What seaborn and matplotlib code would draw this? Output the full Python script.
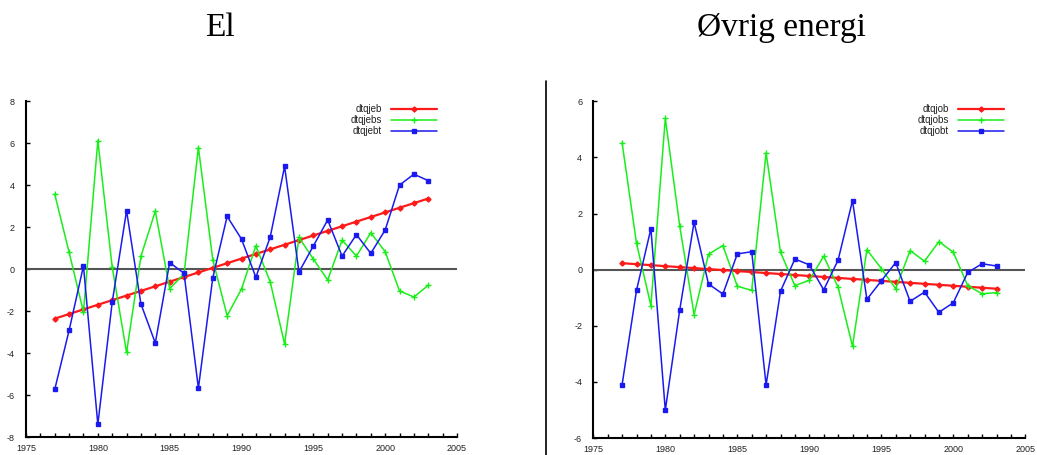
import matplotlib
matplotlib.use("Agg")
import matplotlib.pyplot as plt
from matplotlib.lines import Line2D
from matplotlib.ticker import MultipleLocator
import seaborn as sns
import pandas as pd

years = list(range(1977, 2004))

# El panel
dtqjeb = [-2.35, -2.13, -1.91, -1.69, -1.47, -1.25, -1.03, -0.81, -0.59, -0.37,
          -0.15, 0.07, 0.29, 0.51, 0.73, 0.95, 1.17, 1.39, 1.61, 1.83,
          2.05, 2.27, 2.49, 2.71, 2.93, 3.15, 3.37]
dtqjebs = [3.58, 0.81, -2.03, 6.13, 0.11, -3.96, 0.62, 2.77, -0.92, -0.22,
           5.80, 0.46, -2.21, -0.94, 1.12, -0.60, -3.56, 1.52, 0.49, -0.51,
           1.39, 0.63, 1.74, 0.84, -1.03, -1.32, -0.76]
dtqjebt = [-5.72, -2.91, 0.16, -7.39, -1.57, 2.79, -1.65, -3.51, 0.32, -0.19,
           -5.66, -0.41, 2.52, 1.44, -0.38, 1.54, 4.90, -0.13, 1.11, 2.35,
           0.63, 1.65, 0.76, 1.87, 4.01, 4.53, 4.22]

# Øvrig energi panel
dtqjob = [0.23, 0.195, 0.16, 0.125, 0.09, 0.055, 0.02, -0.015, -0.05, -0.085,
          -0.12, -0.155, -0.19, -0.225, -0.26, -0.295, -0.33, -0.365, -0.40, -0.435,
          -0.47, -0.505, -0.54, -0.575, -0.61, -0.645, -0.68]
dtqjobs = [4.52, 0.94, -1.28, 5.40, 1.56, -1.60, 0.55, 0.86, -0.59, -0.74,
           4.16, 0.62, -0.57, -0.38, 0.48, -0.63, -2.73, 0.71, 0.04, -0.68,
           0.68, 0.30, 1.00, 0.62, -0.57, -0.86, -0.82]
dtqjobt = [-4.10, -0.74, 1.46, -5.01, -1.44, 1.69, -0.51, -0.87, 0.56, 0.64,
           -4.11, -0.77, 0.38, 0.17, -0.72, 0.34, 2.46, -1.06, -0.40, 0.25,
           -1.13, -0.80, -1.52, -1.18, -0.10, 0.21, 0.13]

titles = ["El", "Øvrig energi"]
names_left = ["dtqjeb", "dtqjebs", "dtqjebt"]
names_right = ["dtqjob", "dtqjobs", "dtqjobt"]

sns.set_style("ticks")
plt.rcParams['font.family'] = ['Liberation Sans', 'DejaVu Sans']
plt.rcParams['axes.unicode_minus'] = False

W, H = 1037, 455
fig = plt.figure(figsize=(W / 100, H / 100), dpi=100)

RED, GREEN, BLUE = "#ff1a1a", "#1aee1a", "#1a1aee"
styles = [
    dict(color=RED, marker="D", markersize=2.6, linewidth=1.6),
    dict(color=GREEN, marker="+", markersize=4.2, linewidth=1.1),
    dict(color=BLUE, marker="s", markersize=2.5, linewidth=1.1),
]

panels = [
    dict(rect=[26 / W, 1 - 437.3 / H, 431 / W, 336 / H], ylim=(-8, 8),
         names=names_left, data=[dtqjeb, dtqjebs, dtqjebt],
         leg=(437 / W, 1 - 104 / H), title_x=220 / W),
    dict(rect=[593.3 / W, 1 - 438 / H, 432 / W, 336.7 / H], ylim=(-6, 6),
         names=names_right, data=[dtqjob, dtqjobs, dtqjobt],
         leg=(1004 / W, 1 - 104.5 / H), title_x=781 / W),
]

for p, title in zip(panels, titles):
    ax = fig.add_axes(p["rect"])
    ax.axhline(0, color="#555555", lw=1.5, zorder=1)
    for name, vals, st in zip(p["names"], p["data"], styles):
        df = pd.DataFrame({"year": years, "value": vals})
        sns.lineplot(data=df, x="year", y="value", ax=ax, label=name,
                     color=st["color"], marker=st["marker"],
                     markersize=st["markersize"], linewidth=st["linewidth"],
                     markeredgecolor=st["color"], markerfacecolor=st["color"],
                     markeredgewidth=1.0, zorder=3)
    ax.set_xlim(1975, 2005)
    ax.set_ylim(*p["ylim"])
    ax.xaxis.set_major_locator(MultipleLocator(5))
    ax.xaxis.set_minor_locator(MultipleLocator(1))
    ax.yaxis.set_major_locator(MultipleLocator(2))
    ax.set_xlabel("")
    ax.set_ylabel("")
    for s in ["top", "right"]:
        ax.spines[s].set_visible(False)
    for s in ["left", "bottom"]:
        ax.spines[s].set_linewidth(1.5)
        ax.spines[s].set_color("black")
    ax.tick_params(axis="both", which="both", direction="in", length=3,
                   width=1.0, color="black", labelsize=6.5, labelcolor="#222222")
    ax.tick_params(axis="y", pad=8)
    ax.tick_params(axis="x", pad=5)
    ax.set_facecolor("white")
    leg = ax.legend(loc="upper right", bbox_to_anchor=p["leg"],
                    bbox_transform=fig.transFigure, frameon=False,
                    markerfirst=False, fontsize=7, handlelength=4.7,
                    handletextpad=0.95, labelspacing=0.1, borderpad=0,
                    borderaxespad=0, numpoints=1)
    for t in leg.get_texts():
        t.set_color("#222222")
    fig.text(p["title_x"], 1 - 36 / H, title, ha="center", va="baseline",
             fontfamily="Liberation Serif", fontsize=24, color="black")

fig.add_artist(Line2D([546 / W, 546 / W], [1 - 81 / H, 0], color="black",
                      lw=1.2, transform=fig.transFigure))

fig.savefig("out.png", dpi=100, facecolor="white")
